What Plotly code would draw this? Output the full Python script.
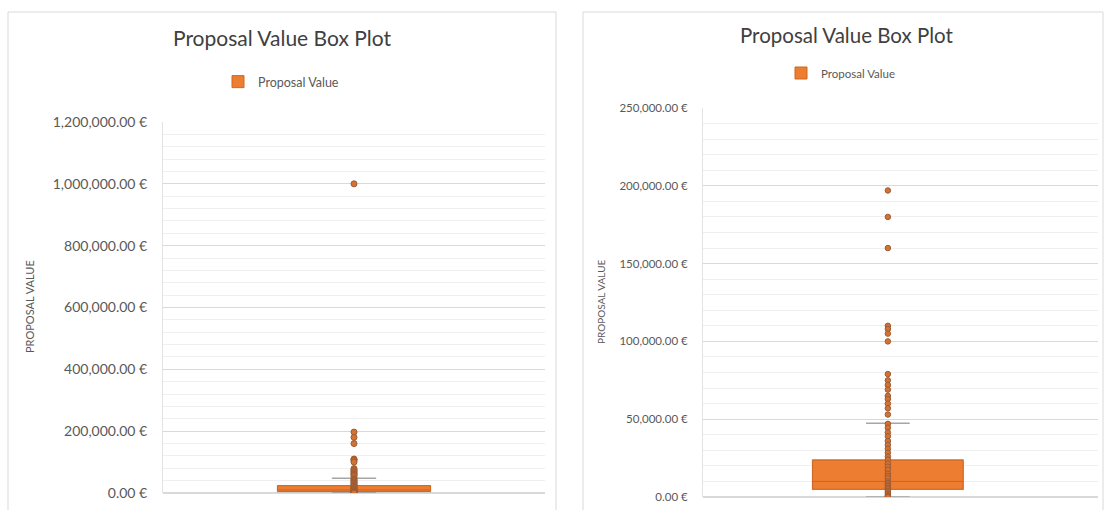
import plotly.graph_objects as go

# Proposal values (EUR) shown as individual points
proposal_values = [
    1000000, 197000, 180000, 160000,
    110000, 108000, 105000, 100000,
    79000, 75000, 72000, 69000, 65000, 63000, 60000, 57000, 53000,
    47000, 44500, 41500, 39000, 36000, 33500, 31000, 28500, 26000, 24000,
    21500, 19500, 17500, 15000, 13500, 12000, 10000, 9000, 8000, 7000,
    6000, 5000, 4000, 3000, 2000, 1000, 500, 0,
]

# Box-and-whisker summary statistics (EUR)
box_q1 = [5000]
box_median = [10000]
box_q3 = [23700]
box_lower = [0]
box_upper = [47400]

series_name = "Proposal Value"
chart_title = "Proposal Value Box Plot"
axis_title = "PROPOSAL VALUE"

ORANGE = "#ED7D31"
MEDIAN = "#D0661E"
WHISKER = "#A6A6A6"
DOT_FILL = "#D27234"
DOT_LINE = "#9C5B33"
TEXT = "#595959"
FONT = "Lato"

W, H = 1106, 510


def px_x(v):
    return v / W


def px_y(v):
    return 1 - v / H


fig = go.Figure()

panels = [
    dict(xa="x", ya="y", width=0.40, legend="legend", dot=6),
    dict(xa="x2", ya="y2", width=0.381, legend="legend2", dot=5.5),
]

for p in panels:
    # whiskers and caps
    fig.add_trace(go.Box(
        x=[0], q1=box_q1, median=box_median, q3=box_q3,
        lowerfence=box_lower, upperfence=box_upper,
        width=p["width"], whiskerwidth=0.29,
        fillcolor="rgba(0,0,0,0)", line=dict(color=WHISKER, width=1.5),
        boxpoints=False, showlegend=False, hoverinfo="skip",
        xaxis=p["xa"], yaxis=p["ya"],
    ))
    # interquartile box with median
    fig.add_trace(go.Box(
        x=[0], q1=box_q1, median=box_median, q3=box_q3,
        lowerfence=box_q1, upperfence=box_q3,
        width=p["width"], whiskerwidth=0,
        fillcolor=ORANGE, line=dict(color=MEDIAN, width=1),
        boxpoints=False, name=series_name, showlegend=True,
        legend=p["legend"], xaxis=p["xa"], yaxis=p["ya"],
    ))
    # all observations
    fig.add_trace(go.Scatter(
        x=[0] * len(proposal_values), y=proposal_values, mode="markers",
        marker=dict(size=p["dot"], color=DOT_FILL,
                    line=dict(color=DOT_LINE, width=1)),
        showlegend=False, cliponaxis=True,
        xaxis=p["xa"], yaxis=p["ya"],
    ))

common_x = dict(visible=False, fixedrange=True)
common_y = dict(
    tickformat=",.2f", ticksuffix=" €",
    showgrid=True, gridcolor="#D9D9D9", gridwidth=1,
    showline=True, linecolor="#E3E3E3", linewidth=1,
    zeroline=True, zerolinecolor="#D9D9D9",
    ticks="", ticklabelstandoff=12,
)
fig.update_layout(
    width=W, height=H,
    margin=dict(l=0, r=0, t=0, b=0, autoexpand=False),
    paper_bgcolor="white", plot_bgcolor="white",
    font=dict(family=FONT, color=TEXT),
    xaxis=dict(domain=[px_x(163), px_x(545)], range=[-0.5, 0.5],
               anchor="y", **common_x),
    xaxis2=dict(domain=[px_x(703), px_x(1098)], range=[-0.468, 0.532],
                anchor="y2", **common_x),
    yaxis=dict(
        domain=[px_y(493), px_y(122)], range=[0, 1200000], dtick=200000,
        anchor="x", tickfont=dict(size=14, color=TEXT, family=FONT),
        minor=dict(dtick=40000, showgrid=True, gridcolor="#EFEFEF", gridwidth=1),
        **common_y,
    ),
    yaxis2=dict(
        domain=[px_y(497), px_y(108)], range=[0, 250000], dtick=50000,
        anchor="x2", tickfont=dict(size=11.5, color=TEXT, family=FONT),
        minor=dict(dtick=10000, showgrid=True, gridcolor="#EFEFEF", gridwidth=1),
        **common_y,
    ),
    legend=dict(
        x=px_x(281), y=px_y(82), xanchor="center", yanchor="middle",
        orientation="h", font=dict(size=12.5, color=TEXT, family=FONT),
        bgcolor="rgba(0,0,0,0)", itemwidth=30,
    ),
    legend2=dict(
        x=px_x(841), y=px_y(73), xanchor="center", yanchor="middle",
        orientation="h", font=dict(size=11.5, color=TEXT, family=FONT),
        bgcolor="rgba(0,0,0,0)", itemwidth=30,
    ),
    shapes=[
        dict(type="rect", xref="paper", yref="paper",
             x0=px_x(8), x1=px_x(556), y0=px_y(520), y1=px_y(12),
             line=dict(color="#D9D9D9", width=1), fillcolor="rgba(0,0,0,0)",
             layer="below"),
        dict(type="rect", xref="paper", yref="paper",
             x0=px_x(583), x1=px_x(1103), y0=px_y(520), y1=px_y(12),
             line=dict(color="#D9D9D9", width=1), fillcolor="rgba(0,0,0,0)",
             layer="below"),
    ],
    annotations=[
        dict(text=chart_title, x=px_x(282), y=px_y(38), xref="paper", yref="paper",
             showarrow=False, xanchor="center", yanchor="middle",
             font=dict(size=21, color="#404040", family=FONT)),
        dict(text=chart_title, x=px_x(846), y=px_y(35), xref="paper", yref="paper",
             showarrow=False, xanchor="center", yanchor="middle",
             font=dict(size=20.5, color="#404040", family=FONT)),
        dict(text=axis_title, x=px_x(29), y=px_y(307), xref="paper", yref="paper",
             showarrow=False, textangle=-90, xanchor="center", yanchor="middle",
             font=dict(size=11, color=TEXT, family=FONT)),
        dict(text=axis_title, x=px_x(601), y=px_y(302), xref="paper", yref="paper",
             showarrow=False, textangle=-90, xanchor="center", yanchor="middle",
             font=dict(size=10, color=TEXT, family=FONT)),
    ],
)

fig.write_html("out.html")
